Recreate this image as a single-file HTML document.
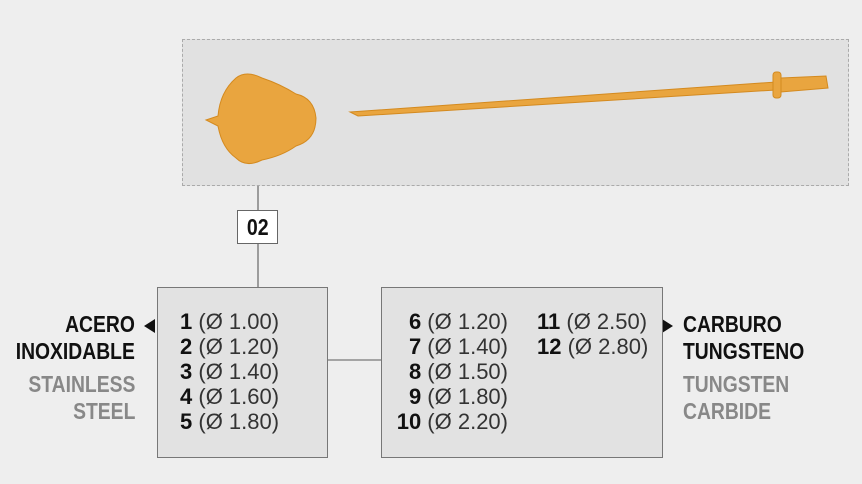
<!DOCTYPE html>
<html><head><meta charset="utf-8"><style>
body{margin:0;width:862px;height:484px;background:#eeeeee;position:relative;overflow:hidden;font-family:"Liberation Sans",sans-serif}
.a{position:absolute}
.box{position:absolute;border:1px solid #777;background:#e2e2e2;box-sizing:border-box}
.l{position:absolute;font-size:22px;line-height:25px;color:#333;white-space:nowrap}
.l b{color:#111}
.lab{position:absolute;font-weight:bold;font-size:23px;line-height:27px;white-space:nowrap;transform:scaleX(0.84)}
</style></head><body>
<div class="a" style="left:182px;top:39px;width:667px;height:147px;border:1px dashed #aaa;background:#e1e1e1;box-sizing:border-box"></div>
<svg class="a" style="left:0;top:0" width="862" height="484">
<g fill="#e9a53f" stroke="#d48a1f" stroke-width="1">
<path d="M206 120 L218 116 Q220 92 236 78 Q246 70 262 78 Q280 84 296 94 Q314 98 316 118 Q316 140 296 146 Q282 156 262 160 Q246 168 236 158 Q222 148 218 126 Z"/>
<path d="M350 112 L776 82 L776 90 L358 116 Z"/>
<rect x="773" y="72" width="8" height="26" rx="3"/>
<path d="M781 78 L826 76 L828 88 L781 92 Z"/>
</g>
<line x1="258" y1="186" x2="258" y2="287" stroke="#666" stroke-width="1.2"/>
<line x1="327" y1="360" x2="381" y2="360" stroke="#777" stroke-width="1.2"/>
<polygon points="144,326 155,319 155,333" fill="#111"/>
<polygon points="673,326 662,319 662,333" fill="#111"/>
</svg>
<div class="a" style="left:237px;top:210px;width:41px;height:34px;background:#fff;border:1px solid #666;box-sizing:border-box;text-align:center;font-weight:bold;font-size:23px;line-height:32px;color:#111"><span style="display:inline-block;transform:scaleX(0.85)">02</span></div>
<div class="box" style="left:157px;top:287px;width:171px;height:171px"></div>
<div class="box" style="left:381px;top:287px;width:282px;height:171px"></div>
<div class="l" style="left:180px;top:309px"><b>1</b> (Ø 1.00)<br><b>2</b> (Ø 1.20)<br><b>3</b> (Ø 1.40)<br><b>4</b> (Ø 1.60)<br><b>5</b> (Ø 1.80)</div>
<div class="l" style="right:354px;top:309px;text-align:right"><b>6</b> (Ø 1.20)<br><b>7</b> (Ø 1.40)<br><b>8</b> (Ø 1.50)<br><b>9</b> (Ø 1.80)<br><b>10</b> (Ø 2.20)</div>
<div class="l" style="left:537px;top:309px"><b>11</b> (Ø 2.50)<br><b>12</b> (Ø 2.80)</div>
<div class="lab" style="right:727px;top:311px;text-align:right;transform-origin:right top;color:#111">ACERO<br>INOXIDABLE</div>
<div class="lab" style="right:727px;top:371px;text-align:right;transform-origin:right top;color:#888">STAINLESS<br>STEEL</div>
<div class="lab" style="left:683px;top:311px;transform-origin:left top;color:#111">CARBURO<br>TUNGSTENO</div>
<div class="lab" style="left:683px;top:371px;transform-origin:left top;color:#888">TUNGSTEN<br>CARBIDE</div>
</body></html>
